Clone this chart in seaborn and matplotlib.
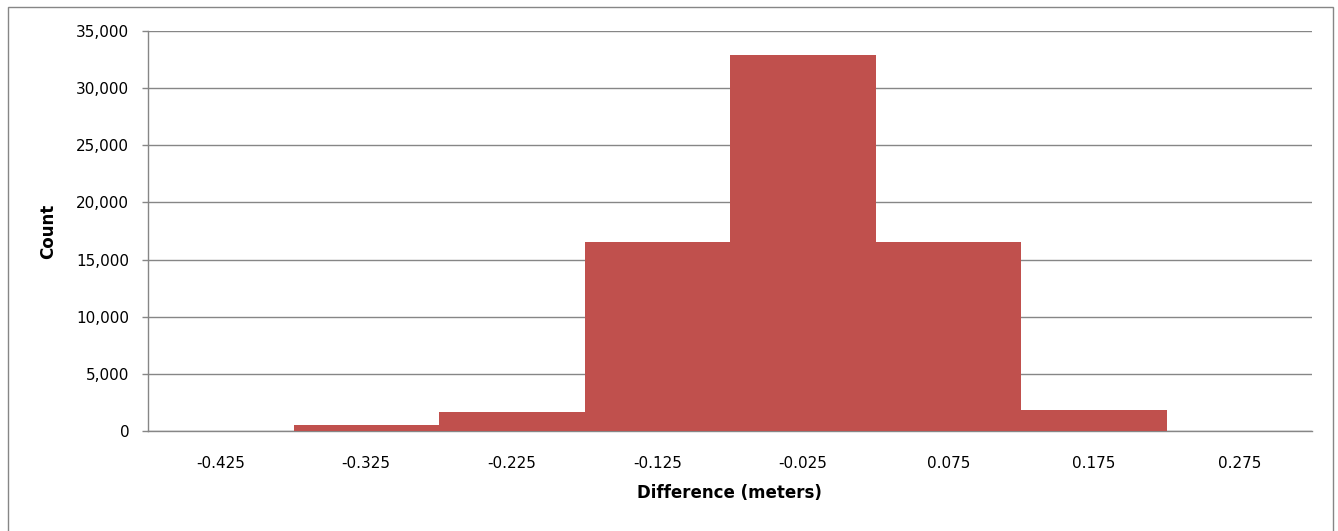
import matplotlib
matplotlib.use("Agg")
import matplotlib.pyplot as plt
import seaborn as sns
import pandas as pd
import numpy as np
from matplotlib.patches import Rectangle
from matplotlib.ticker import FuncFormatter, MultipleLocator

categories = ["-0.425", "-0.325", "-0.225", "-0.125", "-0.025", "0.075", "0.175", "0.275"]
counts = [0, 550, 1680, 16580, 32900, 16580, 1820, 0]

sns.set_theme(style="white")
plt.rcParams['font.family'] = ['DejaVu Sans']

df = pd.DataFrame({"bin": categories, "count": counts})

fig = plt.figure(figsize=(13.38, 5.31), dpi=100)
ax = fig.add_axes([148/1338, 100/531, (1312-148)/1338, 400/531])

sns.barplot(data=df, x="bin", y="count", color="#C0504D", saturation=1, width=1.0,
            edgecolor="none", linewidth=0, ax=ax, zorder=3)

ax.set_xlim(-0.5, len(categories) - 0.5)
ax.set_ylim(0, 35000)
ax.yaxis.set_major_locator(MultipleLocator(5000))
ax.yaxis.set_major_formatter(FuncFormatter(lambda v, p: f"{int(v):,}"))
ax.grid(axis="y", color="#868686", linewidth=1, zorder=0)
ax.set_axisbelow(True)

for s in ["top", "right"]:
    ax.spines[s].set_visible(False)
for s in ["left", "bottom"]:
    ax.spines[s].set_color("#868686")
    ax.spines[s].set_linewidth(1)

ax.tick_params(axis="x", which="major", length=0, pad=18, labelsize=11, labelcolor="black")
ax.set_xticks(np.arange(-0.5, len(categories)), minor=True)
ax.tick_params(axis="x", which="minor", length=5, width=1, color="#868686", direction="out")
ax.tick_params(axis="y", which="major", length=4.5, width=1, color="#868686", direction="out",
               labelsize=11, labelcolor="black", left=True, pad=9)

ax.set_xlabel("Difference (meters)", fontsize=12, fontweight="bold", va="center", color="black")
ax.set_ylabel("Count", fontsize=12, fontweight="bold", va="center", color="black")
ax.xaxis.set_label_coords((729-148)/1164, (431-493)/400)
ax.yaxis.set_label_coords((48-148)/1164, (431-231)/400)

fig.patches.append(Rectangle((8/1338, -10/531), 1325/1338, 534/531, transform=fig.transFigure,
                             fill=False, edgecolor="#868686", linewidth=1))

fig.savefig("out.png", dpi=100)
